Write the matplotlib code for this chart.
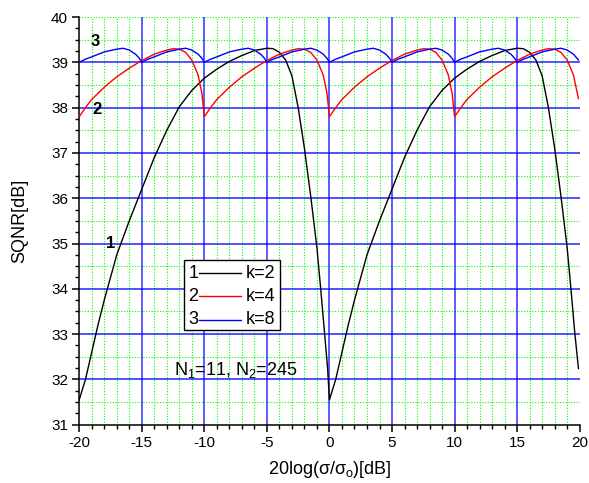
import numpy as np
import matplotlib.pyplot as plt
from matplotlib.ticker import MultipleLocator
from matplotlib.patches import Rectangle

plt.rcParams['font.family'] = ['Liberation Sans', 'DejaVu Sans']
plt.rcParams['axes.unicode_minus'] = False
plt.rcParams['mathtext.fontset'] = 'custom'
plt.rcParams['mathtext.rm'] = 'Liberation Sans'

# curve 1 (k=2)
x1 = [-20, -19.5, -19, -18.5, -18, -17, -16, -15, -14, -13, -12, -11, -10, -9, -8, -7, -6, -5,
      -4.5, -4, -3.5, -3, -2.5, -2, -1.5, -1, -0.7, -0.4, -0.15, 0,
      0.5, 1, 1.5, 2, 3, 4, 5, 6, 7, 8, 9, 10, 11, 12, 13, 14, 15,
      15.5, 16, 16.5, 17, 17.5, 18, 18.5, 19, 19.3, 19.6, 19.9]
y1 = [31.55, 32.0, 32.6, 33.2, 33.75, 34.75, 35.5, 36.2, 36.9, 37.5, 38.02, 38.38, 38.65, 38.85, 39.02, 39.15, 39.26, 39.31,
      39.3, 39.22, 39.05, 38.7, 38.0, 37.1, 36.05, 34.9, 34.0, 33.05, 32.25, 31.55,
      32.0, 32.6, 33.2, 33.75, 34.75, 35.5, 36.2, 36.9, 37.5, 38.02, 38.38, 38.65, 38.85, 39.02, 39.15, 39.26, 39.31,
      39.3, 39.22, 39.05, 38.7, 38.0, 37.1, 36.05, 34.9, 34.0, 33.05, 32.24]

# curve 2 (k=4)
x2 = [-20, -19.5, -19, -18, -17, -16, -15, -14, -13, -12.5, -12, -11.5, -11, -10.5, -10.2,
      -10, -9.5, -9, -8, -7, -6, -5, -4, -3, -2.5, -2, -1.5, -1, -0.5, -0.2,
      0, 0.5, 1, 2, 3, 4, 5, 6, 7, 7.5, 8, 8.5, 9, 9.5, 9.8,
      10, 10.5, 11, 12, 13, 14, 15, 16, 17, 17.5, 18, 18.5, 19, 19.5, 19.9]
y2 = [37.8, 38.0, 38.18, 38.45, 38.68, 38.87, 39.04, 39.18, 39.27, 39.3, 39.29, 39.22, 39.05, 38.72, 38.32,
      37.8, 38.0, 38.18, 38.45, 38.68, 38.87, 39.04, 39.18, 39.27, 39.3, 39.29, 39.22, 39.05, 38.72, 38.32,
      37.8, 38.0, 38.18, 38.45, 38.68, 38.87, 39.04, 39.18, 39.27, 39.3, 39.29, 39.22, 39.05, 38.72, 38.32,
      37.8, 38.0, 38.18, 38.45, 38.68, 38.87, 39.04, 39.18, 39.27, 39.3, 39.29, 39.22, 39.05, 38.72, 38.2]

# curve 3 (k=8)
x3 = [-20, -19.5, -19, -18, -17, -16.5, -16, -15.5, -15.2,
      -15, -14.5, -14, -13, -12, -11.5, -11, -10.5, -10.2,
      -10, -9.5, -9, -8, -7, -6.5, -6, -5.5, -5.2,
      -5, -4.5, -4, -3, -2, -1.5, -1, -0.5, -0.2,
      0, 0.5, 1, 2, 3, 3.5, 4, 4.5, 4.8,
      5, 5.5, 6, 7, 8, 8.5, 9, 9.5, 9.8,
      10, 10.5, 11, 12, 13, 13.5, 14, 14.5, 14.8,
      15, 15.5, 16, 17, 18, 18.5, 19, 19.5, 19.9]
y3 = [39.0, 39.07, 39.12, 39.23, 39.29, 39.31, 39.27, 39.18, 39.09,
      39.0, 39.07, 39.12, 39.23, 39.29, 39.31, 39.27, 39.18, 39.09,
      39.0, 39.07, 39.12, 39.23, 39.29, 39.31, 39.27, 39.18, 39.09,
      39.0, 39.07, 39.12, 39.23, 39.29, 39.31, 39.27, 39.18, 39.09,
      39.0, 39.07, 39.12, 39.23, 39.29, 39.31, 39.27, 39.18, 39.09,
      39.0, 39.07, 39.12, 39.23, 39.29, 39.31, 39.27, 39.18, 39.09,
      39.0, 39.07, 39.12, 39.23, 39.29, 39.31, 39.27, 39.18, 39.09,
      39.0, 39.07, 39.12, 39.23, 39.29, 39.31, 39.27, 39.18, 39.05]

series_names = ['k=2', 'k=4', 'k=8']
series_colors = ['black', 'red', 'blue']

fig = plt.figure(figsize=(5.89, 4.83), dpi=100)
ax = fig.add_axes([0.1345, 0.1207, 0.8497, 0.8441])

ax.set_xlim(-20, 20)
ax.set_ylim(31, 40)
ax.xaxis.set_major_locator(MultipleLocator(5))
ax.xaxis.set_minor_locator(MultipleLocator(1))
ax.yaxis.set_major_locator(MultipleLocator(1))
ax.yaxis.set_minor_locator(MultipleLocator(0.25))

# grid: green dotted minor, blue major
for xv in np.arange(-19, 20, 1):
    if xv % 5 != 0:
        ax.axvline(xv, color='#00ff00', lw=0.8, ls=(0, (1, 1.5)), zorder=0)
for yv in np.arange(31.5, 40, 1):
    ax.axhline(yv, color='#00ff00', lw=0.8, ls=(0, (1, 1.5)), zorder=0)
for xv in [-15, -10, -5, 0, 5, 10, 15]:
    ax.axvline(xv, color='#0000ff', lw=1.2, alpha=0.75, zorder=1)
for yv in range(32, 40):
    ax.axhline(yv, color='#0000ff', lw=1.2, alpha=0.8, zorder=1)
ax.axhline(40, color='#00ff00', lw=0.8, ls=(0, (1, 1.5)), zorder=0)

ax.plot(x1, y1, color='black', lw=1.0, zorder=3)
ax.plot(x2, y2, color='red', lw=1.0, zorder=3)
ax.plot(x3, y3, color='blue', lw=1.0, zorder=3)

for s in ['top', 'right']:
    ax.spines[s].set_visible(False)
for s in ['left', 'bottom']:
    ax.spines[s].set_linewidth(1.1)
ax.tick_params(which='major', direction='out', length=5, width=1.1, labelsize=11, pad=3)
ax.tick_params(which='minor', direction='out', length=3, width=1.0)

ax.set_ylabel('SQNR[dB]', fontsize=13)
ax.yaxis.set_label_coords(-0.102, 0.5)
ax.set_xlabel('20log(σ/σ$_\\mathrm{o}$)[dB]', fontsize=13)
ax.xaxis.set_label_coords(0.5, -0.085)

# curve numbers
ax.text(-18.7, 39.45, '3', fontsize=12, fontweight='bold', ha='center', va='center')
ax.text(-18.6, 37.95, '2', fontsize=12, fontweight='bold', ha='center', va='center')
ax.text(-17.5, 35.0, '1', fontsize=12, fontweight='bold', ha='center', va='center')

ax.text(-12.4, 32.1, 'N$_1$=11, N$_2$=245', fontsize=13, ha='left', va='baseline')

# legend box
ax.add_patch(Rectangle((0.2094, 0.232), 0.1918, 0.172, transform=ax.transAxes,
                       facecolor='white', edgecolor='black', lw=1.0, zorder=5))
row_y = [0.372, 0.315, 0.258]
for i in range(3):
    ax.text(0.228, row_y[i], str(i + 1), transform=ax.transAxes, fontsize=13,
            ha='center', va='center', zorder=6)
    ax.plot([0.2392, 0.3225], [row_y[i], row_y[i]], transform=ax.transAxes,
            color=series_colors[i], lw=1.0, zorder=6)
    ax.text(0.3335, row_y[i], series_names[i], transform=ax.transAxes, fontsize=13,
            ha='left', va='center', zorder=6)

fig.savefig('out.png', dpi=100)
